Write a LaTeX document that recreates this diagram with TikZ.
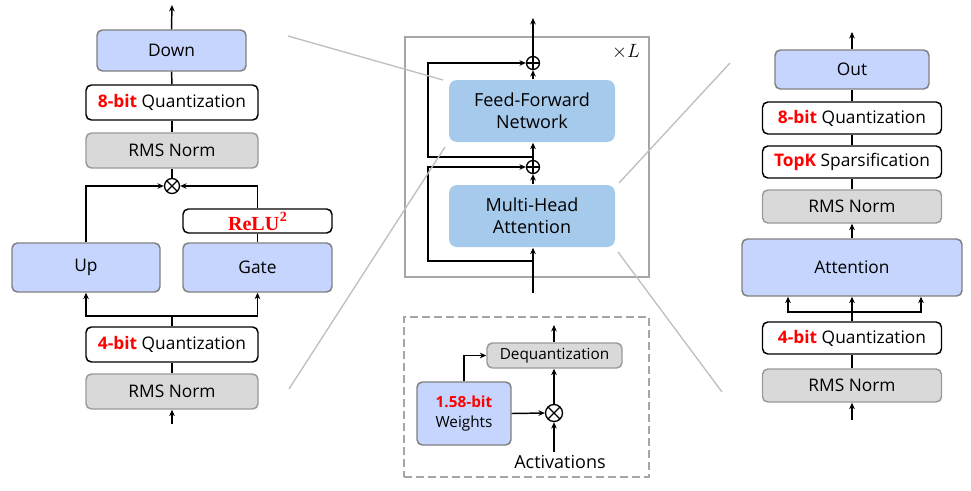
\documentclass[tikz,border=0pt]{standalone}
\usepackage{fontspec}
\newfontfamily\sansf{Open Sans}
\newfontfamily\seriff{Liberation Serif}
\usetikzlibrary{arrows.meta,calc}
\definecolor{lblue}{HTML}{C6D5FD}
\definecolor{bgray}{HTML}{7F7F7F}
\definecolor{lgray}{HTML}{D9D9D9}
\definecolor{ggray}{HTML}{9A9A9A}
\definecolor{steel}{HTML}{A6CAEC}
\definecolor{zgray}{HTML}{BFBFBF}
\definecolor{fgray}{HTML}{A6A6A6}
\definecolor{qred}{HTML}{FF0000}
\newcommand\qb[1]{{\bfseries\color{qred}#1}}
\newcommand\relutext{\textcolor{qred}{\seriff\bfseries\fontsize{15}{16}\selectfont ReLU\kern0.5pt\raisebox{0.45em}{\fontsize{10.5}{11}\selectfont 2}}}
\tikzset{
  sz/.style 2 args={minimum width=#1*0.75pt, minimum height=#2*0.75pt},
  base/.style={rounded corners=4pt, inner sep=0pt, align=center, line width=1.1pt,
    font=\sansf\fontsize{13}{16}\selectfont},
  bluebox/.style={base, draw=bgray, fill=lblue},
  graybox/.style={base, draw=ggray, fill=lgray},
  whitebox/.style={base, draw=black, fill=white},
  ltbox/.style={base, draw=none, fill=steel, rounded corners=6pt,
    font=\sansf\fontsize{13.5}{16.5}\selectfont},
  frame/.style={draw=fgray, line width=1.2pt, inner sep=0pt},
  dframe/.style={draw=fgray, line width=1.2pt, dashed, dash pattern=on 6pt off 3pt, inner sep=0pt},
  line/.style={line width=1.1pt},
  conn/.style={line width=1.1pt, -{Stealth[length=4.8pt,width=4.2pt]}},
  zoomline/.style={draw=zgray, line width=1pt},
  opl/.style={circle, draw, line width=1pt, minimum size=13*0.75pt, inner sep=0pt,
    path picture={\draw[line width=1pt] (path picture bounding box.north) -- (path picture bounding box.south)
      (path picture bounding box.west) -- (path picture bounding box.east);}},
  otm/.style={circle, draw, line width=1pt, minimum size=#1*0.75pt, inner sep=0pt,
    path picture={\draw[line width=1pt]
      ($(path picture bounding box.center)+(45:#1*0.5*0.75pt)$) -- ($(path picture bounding box.center)+(225:#1*0.5*0.75pt)$)
      ($(path picture bounding box.center)+(135:#1*0.5*0.75pt)$) -- ($(path picture bounding box.center)+(315:#1*0.5*0.75pt)$);}},
  otm/.default=14,
  txt/.style={font=\sansf\fontsize{13.5}{16}\selectfont, inner sep=1pt}
}
\begin{document}
\begin{tikzpicture}[x=0.75pt,y=-0.75pt]
\useasboundingbox (0,0) rectangle (971,490);

% ---------- left column (FFN detail) ----------
\node[bluebox, sz={149}{41}] (down) at (171.5,50.5) {Down};
\node[whitebox, sz={172}{35}] (q8L) at (172,102.5) {\qb{8-bit} Quantization};
\node[graybox, sz={172}{35}] (rmsL1) at (172,150.5) {RMS Norm};
\node[otm=15] (mulL) at (172,186) {};
\node[whitebox, sz={149}{24}] (relu) at (257.5,221) {\relutext};
\node[bluebox, sz={148}{49}] (up) at (86,267.5) {Up};
\node[bluebox, sz={149}{49}] (gate) at (257.5,267.5) {Gate};
\node[whitebox, sz={172}{35}] (q4L) at (172,344.5) {\qb{4-bit} Quantization};
\node[graybox, sz={172}{35}] (rmsL2) at (172,391.5) {RMS Norm};
\coordinate (inL) at (172,424);
\coordinate (outL) at (172,5);
\coordinate (splitL) at (172,316);

\draw[conn] (down.north) -- (outL);
\draw[line] (q8L.north) -- (down.south);
\draw[line] (rmsL1.north) -- (q8L.south);
\draw[line] (mulL.north) -- (rmsL1.south);
\draw[conn] (up.north) |- (mulL.west);
\draw[conn] (relu.north) |- (mulL.east);
\draw[line] (gate.north) -- (relu.south);
\draw[line] (q4L.north) -- (splitL);
\draw[conn] (splitL) -| (up.south);
\draw[conn] (splitL) -| (gate.south);
\draw[line] (rmsL2.north) -- (q4L.south);
\draw[conn] (inL) -- (rmsL2.south);

% ---------- middle block ----------
\node[frame, sz={244}{240}] (frame) at (527,157) {};
\node[font=\fontsize{14}{16}\selectfont] (lbl) at (626,52) {$\times L$};
\node[ltbox, sz={166}{62}] (ffn) at (532,111) {Feed-Forward\\Network};
\node[ltbox, sz={166}{62}] (mha) at (532,216) {Multi-Head\\Attention};
\node[opl] (add1) at (533,63) {};
\node[opl] (add2) at (533,167) {};
\coordinate (outM) at (533,18);
\coordinate (inM) at (533,293);
\coordinate (br1) at (533,157);
\coordinate (br2) at (533,261);
\coordinate (lp) at (428,0);

\draw[conn] (add1.north) -- (outM);
\draw[conn] (ffn.north -| add1) -- (add1.south);
\draw[conn] (add2.north) -- (ffn.south -| add2);
\draw[conn] (mha.north -| add2) -- (add2.south);
\draw[conn] (inM) -- (mha.south -| inM);
\draw[conn] (br1) -- (br1 -| lp) |- (add1.west);
\draw[conn] (br2) -- (br2 -| lp) |- (add2.west);

% zoom indicator lines
\coordinate (z1a) at (288,36);  \coordinate (z1b) at (443,80);
\coordinate (z2a) at (289,389); \coordinate (z2b) at (445,147);
\coordinate (z3a) at (619,183); \coordinate (z3b) at (730,63);
\coordinate (z4a) at (618,252); \coordinate (z4b) at (722,392);
\draw[zoomline] (z1a) -- (z1b);
\draw[zoomline] (z2a) -- (z2b);
\draw[zoomline] (z3a) -- (z3b);
\draw[zoomline] (z4a) -- (z4b);

% ---------- bottom middle (BitLinear) ----------
\node[dframe, sz={245}{160}] (dbox) at (526.5,397) {};
\node[graybox, sz={135}{25}, font=\sansf\fontsize{11.5}{13}\selectfont] (deq) at (554.5,355.5) {Dequantization};
\node[bluebox, sz={94}{63}, font=\sansf\fontsize{11.5}{15}\selectfont] (wts) at (464,413.5) {\qb{1.58-bit}\\Weights};
\node[otm=17] (mulB) at (554,413) {};
\node[txt] (acts) at (560,462) {Activations};
\coordinate (outB) at (554,325);
\coordinate (inB) at (554,452);

\draw[conn] (deq.north -| outB) -- (outB);
\draw[conn] (wts.north) |- (deq.west);
\draw[conn] (wts.east) -- (mulB.west);
\draw[conn] (mulB.north) -- (deq.south -| mulB);
\draw[conn] (inB) -- (mulB.south);

% ---------- right column (attention detail) ----------
\node[bluebox, sz={154}{39}] (out) at (852,69.5) {Out};
\node[whitebox, sz={179}{32}] (q8R) at (852,118) {\qb{8-bit} Quantization};
\node[whitebox, sz={179}{32}] (topk) at (852,162) {\qb{TopK} Sparsification};
\node[graybox, sz={179}{33}] (rmsR1) at (852,206.5) {RMS Norm};
\node[bluebox, sz={220}{57}] (att) at (852,267.5) {Attention};
\node[whitebox, sz={179}{32}] (q4R) at (852,338) {\qb{4-bit} Quantization};
\node[graybox, sz={179}{33}] (rmsR2) at (852,385.5) {RMS Norm};
\coordinate (outR) at (852,32);
\coordinate (inR) at (852,420);
\coordinate (splitR) at (852,312);
\coordinate (a1) at (788,0);
\coordinate (a3) at (921,0);

\draw[conn] (out.north) -- (outR);
\draw[line] (q8R.north) -- (out.south);
\draw[line] (topk.north) -- (q8R.south);
\draw[line] (rmsR1.north) -- (topk.south);
\draw[conn] (att.north) -- (rmsR1.south);
\draw[line] (q4R.north) -- (splitR);
\draw[conn] (splitR) -- (att.south);
\draw[conn] (splitR) -| (att.south -| a1);
\draw[conn] (splitR) -| (att.south -| a3);
\draw[line] (rmsR2.north) -- (q4R.south);
\draw[conn] (inR) -- (rmsR2.south);
\end{tikzpicture}
\end{document}
